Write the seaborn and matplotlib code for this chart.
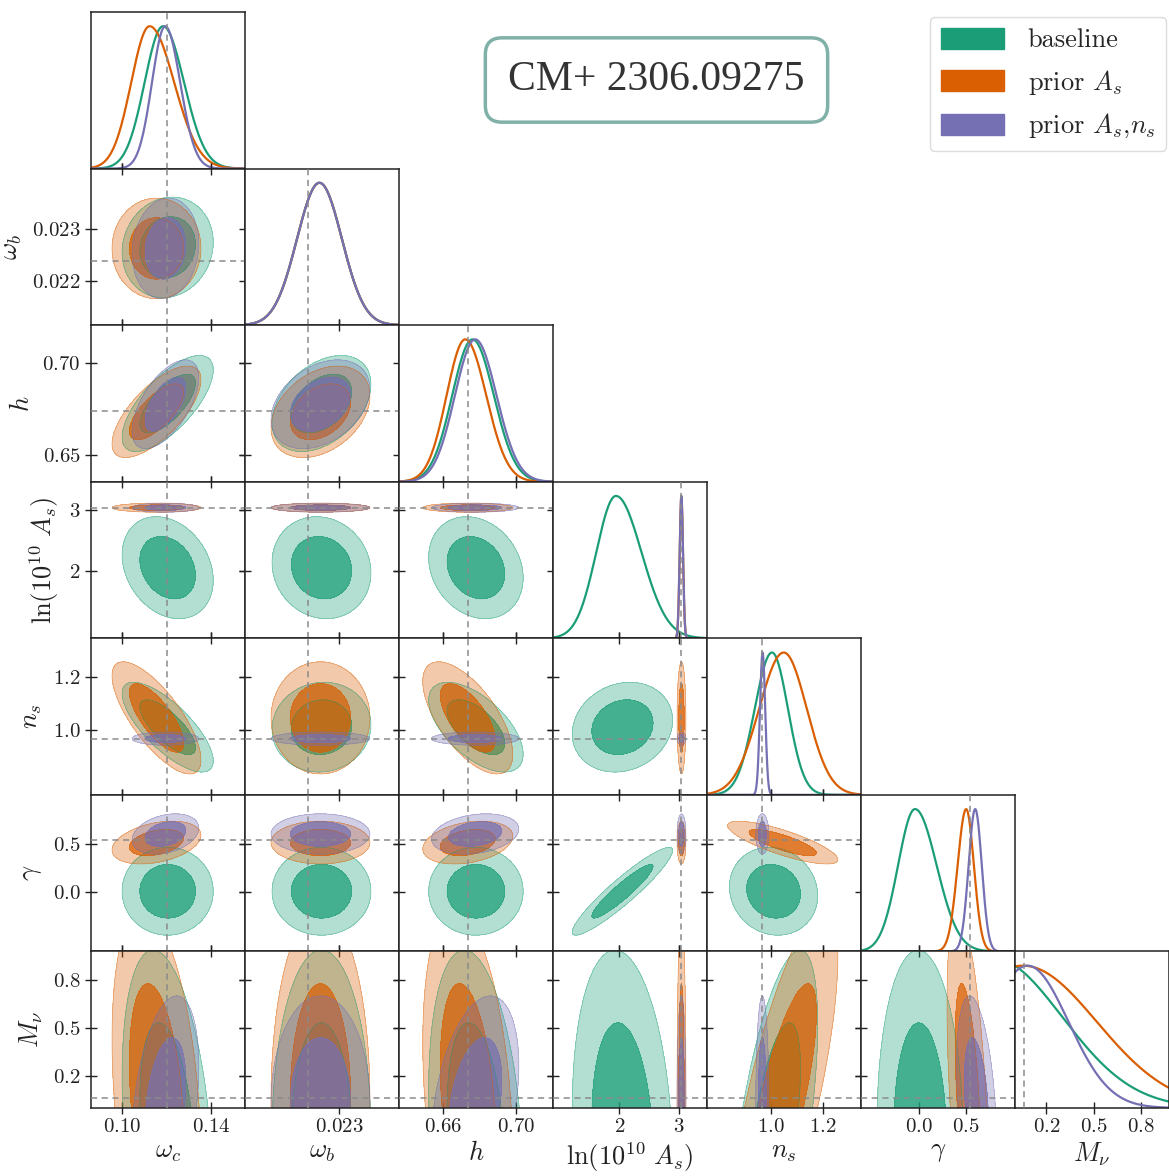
import numpy as np
import matplotlib
matplotlib.use("Agg")
import matplotlib.pyplot as plt
from matplotlib.patches import Patch
import seaborn as sns

sns.set_theme(style="white")
plt.rcParams['font.family'] = ['cmr10', 'DejaVu Serif']
plt.rcParams['mathtext.fontset'] = 'cm'
plt.rcParams['axes.formatter.use_mathtext'] = True

# ---- parameters of the triangle (order: omega_c, omega_b, h, lnAs, n_s, gamma, M_nu)
labels = [r'$\omega_c$', r'$\omega_b$', r'$h$', r'$\ln(10^{10}\ A_s)$', r'$n_s$', r'$\gamma$', r'$M_\nu$']
limits = [(0.0862, 0.1551), (0.02115, 0.02417), (0.6355, 0.7206), (0.88, 3.475),
          (0.755, 1.345), (-0.62, 1.02), (0.0, 0.98)]
truth = [0.120, 0.02238, 0.6739, 3.045, 0.965, 0.545, 0.06]
xticks = [[0.10, 0.14], [0.023], [0.66, 0.70], [2, 3], [1.0, 1.2], [0.0, 0.5], [0.2, 0.5, 0.8]]
xticklabels = [['0.10', '0.14'], ['0.023'], ['0.66', '0.70'], ['2', '3'], ['1.0', '1.2'],
               ['0.0', '0.5'], ['0.2', '0.5', '0.8']]
yticks = [[], [0.022, 0.023], [0.65, 0.70], [2, 3], [1.0, 1.2], [0.0, 0.5], [0.2, 0.5, 0.8]]
yticklabels = [[], ['0.022', '0.023'], ['0.65', '0.70'], ['2', '3'], ['1.0', '1.2'],
               ['0.0', '0.5'], ['0.2', '0.5', '0.8']]

models = ['baseline', r'prior $A_s$', r'prior $A_s$,$n_s$']
colors = ['#1b9e77', '#d95f02', '#7570b3']

# ---- 1D marginals (peak, left width, right width)
peak1d_base = [0.1184, 0.02261, 0.6761, 1.94, 1.004, -0.045, -0.15]
lo1d_base = [0.0082, 0.00044, 0.0112, 0.33, 0.066, 0.18, 0.45]
hi1d_base = [0.0094, 0.00044, 0.0118, 0.43, 0.061, 0.23, 0.45]

peak1d_as = [0.1124, 0.02261, 0.6721, 3.043, 1.049, 0.500, 0.05]
lo1d_as = [0.0082, 0.00044, 0.0103, 0.028, 0.094, 0.091, 0.47]
hi1d_as = [0.0110, 0.00044, 0.0116, 0.028, 0.088, 0.082, 0.47]

peak1d_asns = [0.1194, 0.02261, 0.6776, 3.043, 0.968, 0.596, 0.08]
lo1d_asns = [0.0059, 0.00044, 0.0112, 0.028, 0.010, 0.070, 0.26]
hi1d_asns = [0.0067, 0.00044, 0.0118, 0.028, 0.010, 0.070, 0.26]

# ---- 2D contours (centre, width, correlations lower triangle)
mean2d_base = [0.1205, 0.02265, 0.678, 2.05, 1.010, 0.01, -0.18]
sig2d_base = [0.0082, 0.00039, 0.0105, 0.34, 0.068, 0.185, 0.47]
rho_base = [[],
            [0.10],
            [0.70, 0.40],
            [-0.25, -0.10, -0.20],
            [-0.75, 0.05, -0.60, 0.15],
            [0.00, 0.00, 0.00, 0.93, -0.10],
            [-0.32, 0.00, -0.25, -0.15, 0.60, -0.05]]

mean2d_as = [0.1155, 0.02263, 0.6735, 3.045, 1.045, 0.52, 0.05]
sig2d_as = [0.0080, 0.00039, 0.0100, 0.030, 0.085, 0.090, 0.48]
rho_as = [[],
          [0.00],
          [0.70, 0.35],
          [0.00, 0.00, 0.00],
          [-0.75, 0.00, -0.65, 0.00],
          [0.35, 0.00, 0.30, 0.00, -0.80],
          [-0.32, 0.00, -0.30, 0.00, 0.75, -0.50]]

mean2d_asns = [0.1195, 0.02263, 0.6776, 3.045, 0.967, 0.61, 0.03]
sig2d_asns = [0.0060, 0.00039, 0.0097, 0.030, 0.010, 0.085, 0.27]
rho_asns = [[],
            [0.10],
            [0.60, 0.35],
            [0.00, 0.00, 0.00],
            [0.00, 0.00, 0.00, 0.00],
            [0.30, 0.00, 0.25, 0.00, 0.00],
            [0.34, 0.00, 0.35, 0.00, 0.00, -0.35]]

peaks = [peak1d_base, peak1d_as, peak1d_asns]
los = [lo1d_base, lo1d_as, lo1d_asns]
his = [hi1d_base, hi1d_as, hi1d_asns]
means = [mean2d_base, mean2d_as, mean2d_asns]
sigs = [sig2d_base, sig2d_as, sig2d_asns]
rhos = [rho_base, rho_as, rho_asns]


def curve1d(x, peak, lo, hi):
    s = np.where(x < peak, lo, hi)
    y = np.exp(-0.5 * ((x - peak) / s) ** 2)
    return y / y.max()


def chi2_grid(X, Y, mx, my, sx, sy, r):
    u = (X - mx) / sx
    v = (Y - my) / sy
    return (u * u - 2 * r * u * v + v * v) / (1 - r * r)


W, H = 1169, 1176
fig = plt.figure(figsize=(W / 100, H / 100), dpi=100)
n = len(labels)
x0, cw = 91, 154.0
y0, rh = 12, 156.57
dash = dict(color='#8a8a8a', ls=(0, (4, 3)), lw=1.1, zorder=10)

for i in range(n):
    for j in range(i + 1):
        rect = [(x0 + j * cw) / W, 1 - (y0 + (i + 1) * rh) / H, cw / W, rh / H]
        ax = fig.add_axes(rect)
        ax.set_xlim(limits[j])
        if i == j:
            grid = np.linspace(limits[j][0], limits[j][1], 600)
            for m in range(3):
                yy = curve1d(grid, peaks[m][j], los[m][j], his[m][j])
                sns.lineplot(x=grid, y=yy, ax=ax, color=colors[m], lw=1.6)
            ax.set_ylim(0, 1.1)
            ax.axvline(truth[j], **dash)
            ax.set_yticks([])
            ax.tick_params(axis='x', direction='inout', length=8, width=1.0,
                           bottom=True, top=False, labelbottom=(i == n - 1),
                           labelsize=15, colors='#222')
        else:
            ax.set_ylim(limits[i])
            gx = np.linspace(limits[j][0], limits[j][1], 400)
            gy = np.linspace(limits[i][0], limits[i][1], 400)
            X, Y = np.meshgrid(gx, gy)
            for m in range(3):
                c2 = chi2_grid(X, Y, means[m][j], means[m][i], sigs[m][j], sigs[m][i], rhos[m][i][j])
                ax.contourf(X, Y, c2, levels=[0, 6.18], colors=[colors[m]], alpha=0.33)
                ax.contourf(X, Y, c2, levels=[0, 2.30], colors=[colors[m]], alpha=0.72)
                ax.contour(X, Y, c2, levels=[2.30, 6.18], colors=[colors[m]], linewidths=0.5, alpha=0.5)
            ax.axvline(truth[j], **dash)
            ax.axhline(truth[i], **dash)
            ax.set_yticks(yticks[i])
            ax.tick_params(axis='both', direction='inout', length=8, width=1.0,
                           bottom=True, top=True, left=True, right=True,
                           labelbottom=(i == n - 1), labelleft=(j == 0),
                           labelsize=15, colors='#222')
            if j == 0:
                ax.set_yticklabels(['$' + s + '$' for s in yticklabels[i]])
                ax.set_ylabel(labels[i], fontsize=19, labelpad=6, color='#222')
        ax.set_xticks(xticks[j])
        if i == n - 1:
            ax.set_xticklabels(['$' + s + '$' for s in xticklabels[j]])
            ax.set_xlabel(labels[j], fontsize=19, labelpad=3, color='#222')
        for sp in ax.spines.values():
            sp.set_color('#222')
            sp.set_linewidth(1.1)

handles = [Patch(facecolor=c, edgecolor=c) for c in colors]
fig.legend(handles, models, loc='upper right', bbox_to_anchor=(1.0 + 10 / W, 1 - 4 / H),
           fontsize=19, frameon=True, fancybox=True, edgecolor='#dcdcdc', framealpha=1,
           handlelength=2.4, handleheight=0.85, labelspacing=0.58, borderpad=0.4,
           handletextpad=0.9)

fig.text(656.5 / W, 1 - 80 / H, 'CM+ 2306.09275', fontsize=30, family='Liberation Serif',
         color='#333333', ha='center', va='center',
         bbox=dict(boxstyle='round,pad=0.55,rounding_size=0.4', fc='white',
                   ec='#80b1a8', lw=2.5))

fig.savefig('out.png', dpi=100)
